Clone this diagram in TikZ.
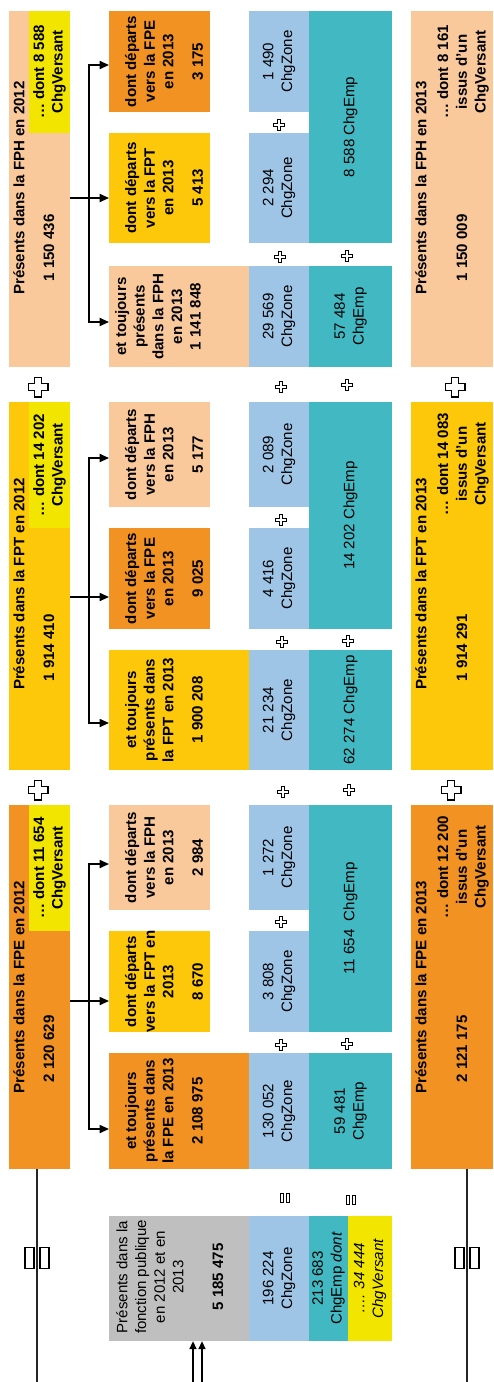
\documentclass[tikz,border=0pt]{standalone}
\usepackage{fontspec}
\setmainfont{Liberation Sans}
\usetikzlibrary{arrows.meta,fit}

\definecolor{cfpe}{HTML}{F29222}
\definecolor{cfpt}{HTML}{FDC80A}
\definecolor{cfph}{HTML}{FAC99B}
\definecolor{cvers}{HTML}{F2E600}
\definecolor{czone}{HTML}{9EC4E6}
\definecolor{cemp}{HTML}{42B9C2}
\definecolor{cfp}{HTML}{BFBFC0}

\tikzset{
  plusmark/.pic={\draw[fill=white, line width=0.9pt] (-1,-3) -- (1,-3) -- (1,-1) -- (3,-1) -- (3,1) -- (1,1) -- (1,3) -- (-1,3) -- (-1,1) -- (-3,1) -- (-3,-1) -- (-1,-1) -- cycle;},
  tofu/.pic={\draw[fill=white, line width=0.8pt] (-12,-10.5) rectangle (-3,10.5) (3,-10.5) rectangle (12,10.5);}
}

\begin{document}
\begin{tikzpicture}[
  x=0.75pt, y=-0.75pt,
  box/.style={inner sep=0pt, outer sep=0pt},
  txt/.style={rotate=90, align=center, inner sep=0pt, font=\fontsize{11.3}{14}\selectfont},
  btxt/.style={rotate=90, align=center, inner sep=0pt, font=\fontsize{11.3}{14}\selectfont\bfseries},
  arr/.style={-{Triangle[length=7pt, width=6pt]}, line width=1.3pt},
  inarr/.style={-{Triangle[length=6pt, width=5pt]}, line width=1.5pt},
  rule/.style={line width=1.4pt, draw=black!85}]
\useasboundingbox (0,0) rectangle (493,1382);

% FPH 2012 -> 2013
\node[box, fill=cfph, fit={(9,11)(70,367)}] (fph12) {};
\node[box, fill=cvers, fit={(29,11)(70,133)}] (fph12vers) {};
\node[btxt] (fph12t) at (19,188) {Présents dans la FPH en 2012};
\node[btxt] (fph12n) at (49,248) {1 150 436};
\node[btxt] (fph12vt) at (fph12vers) {… dont 8 588\\ChgVersant};
\node[box, fill=cfpe, fit={(109,11)(210,112)}] (fphtofpe) {};
\node[box, fill=cfpt, fit={(109,133)(210,243)}] (fphtofpt) {};
\node[box, fill=cfph, fit={(109,266)(249,367)}] (fphstay) {};
\node[btxt] (fphtofpet) at (164,61.5) {dont départs\\vers la FPE\\en 2013\\[8pt]3 175};
\node[btxt] (fphtofptt) at (164,188) {dont départs\\vers la FPT\\en 2013\\[8pt]5 413};
\node[btxt] (fphstayt) at (158,316.5) {et toujours\\présents\\dans la FPH\\en 2013\\1 141 848};
\node[box, fill=czone, fit={(249,11)(309,112)}] (fphz1) {};
\node[box, fill=czone, fit={(249,133)(309,243)}] (fphz2) {};
\node[box, fill=czone, fit={(249,266)(309,367)}] (fphz3) {};
\node[txt] (fphz1t) at (fphz1) {1 490\\ChgZone};
\node[txt] (fphz2t) at (fphz2) {2 294\\ChgZone};
\node[txt] (fphz3t) at (fphz3) {29 569\\ChgZone};
\node[box, fill=cemp, fit={(309,11)(392,243)}] (fphe12) {};
\node[box, fill=cemp, fit={(309,266)(392,367)}] (fphe3) {};
\node[txt] (fphe12t) at (fphe12) {8 588 ChgEmp};
\node[txt] (fphe3t) at (fphe3) {57 484\\ChgEmp};
\node[box, fill=cfph, fit={(411,11)(493,367)}] (fph13) {};
\node[btxt] (fph13t) at (421,188) {Présents dans la FPH en 2013};
\node[btxt] (fph13n) at (462,248) {1 150 009};
\node[btxt] (fph13vt) at (463,72) {… dont 8 161\\issus d'un\\ChgVersant};

% FPT 2012 -> 2013
\node[box, fill=cfpt, fit={(9,402)(70,770)}] (fpt12) {};
\node[box, fill=cvers, fit={(29,402)(70,528)}] (fpt12vers) {};
\node[btxt] (fpt12t) at (19,584) {Présents dans la FPT en 2012};
\node[btxt] (fpt12n) at (49,648) {1 914 410};
\node[btxt] (fpt12vt) at (fpt12vers) {… dont 14 202\\ChgVersant};
\node[box, fill=cfph, fit={(109,402)(210,507)}] (fpttofph) {};
\node[box, fill=cfpe, fit={(109,528)(210,629)}] (fpttofpe) {};
\node[box, fill=cfpt, fit={(109,650)(249,770)}] (fptstay) {};
\node[btxt] (fpttofpht) at (164,454.5) {dont départs\\vers la FPH\\en 2013\\[8pt]5 177};
\node[btxt] (fpttofpet) at (164,578.5) {dont départs\\vers la FPE\\en 2013\\[8pt]9 025};
\node[btxt] (fptstayt) at (164,710) {et toujours\\présents dans\\la FPT en 2013\\[8pt]1 900 208};
\node[box, fill=czone, fit={(249,402)(309,507)}] (fptz1) {};
\node[box, fill=czone, fit={(249,528)(309,629)}] (fptz2) {};
\node[box, fill=czone, fit={(249,650)(309,770)}] (fptz3) {};
\node[txt] (fptz1t) at (fptz1) {2 089\\ChgZone};
\node[txt] (fptz2t) at (fptz2) {4 416\\ChgZone};
\node[txt] (fptz3t) at (fptz3) {21 234\\ChgZone};
\node[box, fill=cemp, fit={(309,402)(392,629)}] (fpte12) {};
\node[box, fill=cemp, fit={(309,650)(392,770)}] (fpte3) {};
\node[txt] (fpte12t) at (fpte12) {14 202 ChgEmp};
\node[txt] (fpte3t) at (fpte3) {62 274 ChgEmp};
\node[box, fill=cfpt, fit={(411,402)(493,770)}] (fpt13) {};
\node[btxt] (fpt13t) at (421,584) {Présents dans la FPT en 2013};
\node[btxt] (fpt13n) at (462,648) {1 914 291};
\node[btxt] (fpt13vt) at (463,464) {… dont 14 083\\issus d'un\\ChgVersant};

% FPE 2012 -> 2013
\node[box, fill=cfpe, fit={(9,805)(70,1169)}] (fpe12) {};
\node[box, fill=cvers, fit={(29,805)(70,931)}] (fpe12vers) {};
\node[btxt] (fpe12t) at (19,987) {Présents dans la FPE en 2012};
\node[btxt] (fpe12n) at (49,1049) {2 120 629};
\node[btxt] (fpe12vt) at (fpe12vers) {… dont 11 654\\ChgVersant};
\node[box, fill=cfph, fit={(109,805)(210,910)}] (fpetofph) {};
\node[box, fill=cfpt, fit={(109,931)(210,1032)}] (fpetofpt) {};
\node[box, fill=cfpe, fit={(109,1053)(249,1169)}] (fpestay) {};
\node[btxt] (fpetofpht) at (164,857.5) {dont départs\\vers la FPH\\en 2013\\[8pt]2 984};
\node[btxt] (fpetofptt) at (164,981.5) {dont départs\\vers la FPT en\\2013\\[8pt]8 670};
\node[btxt] (fpestayt) at (164,1111) {et toujours\\présents dans\\la FPE en 2013\\[8pt]2 108 975};
\node[box, fill=czone, fit={(249,805)(309,910)}] (fpez1) {};
\node[box, fill=czone, fit={(249,931)(309,1032)}] (fpez2) {};
\node[box, fill=czone, fit={(249,1053)(309,1169)}] (fpez3) {};
\node[txt] (fpez1t) at (fpez1) {1 272\\ChgZone};
\node[txt] (fpez2t) at (fpez2) {3 808\\ChgZone};
\node[txt] (fpez3t) at (fpez3) {130 052\\ChgZone};
\node[box, fill=cemp, fit={(309,805)(392,1032)}] (fpee12) {};
\node[box, fill=cemp, fit={(309,1053)(392,1169)}] (fpee3) {};
\node[txt] (fpee12t) at (fpee12) {11 654~~ChgEmp};
\node[txt] (fpee3t) at (fpee3) {59 481\\ChgEmp};
\node[box, fill=cfpe, fit={(411,805)(493,1169)}] (fpe13) {};
\node[btxt] (fpe13t) at (421,987) {Présents dans la FPE en 2013};
\node[btxt] (fpe13n) at (462,1049) {2 121 175};
\node[btxt] (fpe13vt) at (463,867) {… dont 12 200\\issus d'un\\ChgVersant};

% whole public service
\node[box, fill=cfp, fit={(109,1216)(249,1341)}] (fptot) {};
\node[box, fill=czone, fit={(249,1216)(309,1341)}] (totzone) {};
\node[box, fill=cemp, fit={(309,1216)(348,1341)}] (totemp) {};
\node[box, fill=cvers, fit={(348,1216)(392,1341)}] (totvers) {};
\node[txt] (fptott) at (150,1277) {Présents dans la\\fonction publique\\en 2012 et en\\2013};
\node[btxt] (fptotn) at (218,1277) {5 185 475};
\node[txt] (totzonet) at (totzone) {196 224\\ChgZone};
\node[txt] (totempt) at (totemp) {213 683\\ChgEmp \textit{dont}};
\node[txt] (totverst) at (totvers) {\textit{…. 34 444}\\\textit{ChgVersant}};

% splits
\coordinate (fphfork) at (89,198);
\draw[arr] (fph12.east |- fphfork) -- (fphtofpt.west |- fphfork);
\draw[arr] (fphfork) |- (fphtofpe.west |- 0,65);
\draw[arr] (fphfork) |- (fphstay.west |- 0,322);
\coordinate (fptfork) at (89,597);
\draw[arr] (fpt12.east |- fptfork) -- (fpttofpe.west |- fptfork);
\draw[arr] (fptfork) |- (fpttofph.west |- 0,458);
\draw[arr] (fptfork) |- (fptstay.west |- 0,723);
\coordinate (fpefork) at (89,1001);
\draw[arr] (fpe12.east |- fpefork) -- (fpetofpt.west |- fpefork);
\draw[arr] (fpefork) |- (fpetofph.west |- 0,864);
\draw[arr] (fpefork) |- (fpestay.west |- 0,1129);

% plus signs
\pic[scale=3.3] at (38,387) {plusmark};
\pic[scale=3.3] at (455,387) {plusmark};
\pic[scale=3.3] at (38,790) {plusmark};
\pic[scale=3.3] at (451,790) {plusmark};
\foreach \px/\py in {279/125, 280/257, 347/256, 281/387, 347/385, 281/520, 282/642, 348/641, 283/792, 349/790, 281/922, 281/1045, 347/1044}
  \pic[scale=1.85] at (\px,\py) {plusmark};

% totals and inflows
\coordinate (leftend) at (37,1382);
\coordinate (rightend) at (467,1382);
\draw[rule] (fpe12.south -| leftend) -- (leftend);
\draw[rule] (fpe13.south -| rightend) -- (rightend);
\pic at (37,1258) {tofu};
\pic at (467,1258) {tofu};
\pic[scale=0.4] at (285,1198) {tofu};
\pic[scale=0.4] at (351,1200) {tofu};
\coordinate (in1) at (193,1382);
\coordinate (in2) at (202,1382);
\draw[inarr] (in1) -- (fptot.south -| in1);
\draw[inarr] (in2) -- (fptot.south -| in2);
\end{tikzpicture}
\end{document}
